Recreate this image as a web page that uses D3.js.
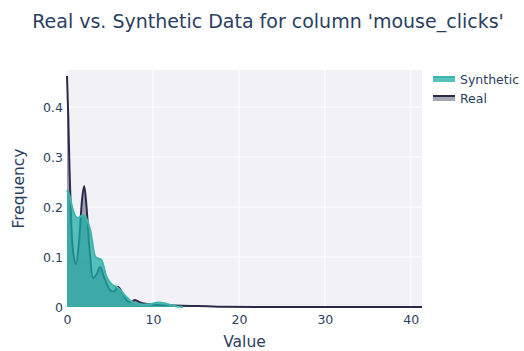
<!DOCTYPE html>
<html>
<head>
<meta charset="utf-8">
<script src="https://cdn.jsdelivr.net/npm/d3@7"></script>
<style>
  body { margin: 0; background: #fff; }
  text { font-family: "DejaVu Sans", Verdana, sans-serif; fill: #2a3f5f; }
</style>
</head>
<body>
<div id="chart-area"></div>
<script>
/* Data */
var series = ["Synthetic", "Real"];

var realX = [0, 0.15, 0.3, 0.5, 0.75, 1.05, 1.4, 1.75, 2.0, 2.25, 2.6, 3.05, 3.45, 3.85, 4.3, 5.0, 5.45, 5.95, 6.5, 7.1, 7.5, 7.9, 8.5, 9.3, 10.5, 12.5, 14.5, 16.3, 18, 22, 30, 41.3];
var realY = [0.462, 0.38, 0.27, 0.165, 0.105, 0.086, 0.13, 0.215, 0.242, 0.205, 0.12, 0.058, 0.066, 0.08, 0.06, 0.034, 0.031, 0.04, 0.026, 0.011, 0.01, 0.014, 0.009, 0.006, 0.004, 0.003, 0.002, 0.0015, 0.0004, 0.0002, 0.0001, 0];

var synthX = [0, 0.3, 0.6, 0.9, 1.2, 1.5, 1.9, 2.3, 2.7, 3.3, 4.0, 4.6, 5.2, 5.8, 6.4, 6.9, 7.5, 8.1, 9.0, 9.8, 10.6, 11.4, 12.2, 12.8, 13.5];
var synthY = [0.234, 0.222, 0.2, 0.184, 0.178, 0.18, 0.184, 0.175, 0.154, 0.1, 0.094, 0.06, 0.045, 0.04, 0.03, 0.02, 0.011, 0.007, 0.005, 0.006, 0.009, 0.007, 0.003, 0.001, 0];

var xTicks = [0, 10, 20, 30, 40];
var yTicks = [0, 0.1, 0.2, 0.3, 0.4];

var colors = {
  Synthetic: {line: "#3fb5ab", fill: "rgba(28,174,164,0.74)"},
  Real: {line: "#2c2a4c", fill: "rgba(44,42,76,0.42)"}
};

/* Margins */
var margin = {top: 70, right: 102, bottom: 44, left: 67};
var width = 524 - margin.left - margin.right;
var height = 351 - margin.top - margin.bottom;

var svg = d3.select("#chart-area").append("svg")
  .attr("width", 524)
  .attr("height", 351);

var g = svg.append("g")
  .attr("transform", "translate(" + margin.left + "," + margin.top + ")");

/* Scales */
var x = d3.scaleLinear().domain([0, 41.3]).range([0, width]);
var y = d3.scaleLinear().domain([0, 0.474]).range([height, 0]);

// plot background
g.append("rect")
  .attr("width", width)
  .attr("height", height)
  .attr("fill", "#f2f2f6");

// grid
g.append("g").selectAll("line.v").data(xTicks.slice(1)).enter().append("line")
  .attr("x1", d => x(d)).attr("x2", d => x(d))
  .attr("y1", 0).attr("y2", height)
  .attr("stroke", "#fff").attr("stroke-width", 1);
g.append("g").selectAll("line.h").data(yTicks.slice(1)).enter().append("line")
  .attr("y1", d => y(d)).attr("y2", d => y(d))
  .attr("x1", 0).attr("x2", width)
  .attr("stroke", "#fff").attr("stroke-width", 1);

/* Curves */
var area = d3.area()
  .x(d => x(d[0]))
  .y0(y(0))
  .y1(d => y(d[1]))
  .curve(d3.curveMonotoneX);
var line = d3.line()
  .x(d => x(d[0]))
  .y(d => y(d[1]))
  .curve(d3.curveMonotoneX);

var realData = realX.map((v, i) => [v, realY[i]]);
var synthData = synthX.map((v, i) => [v, synthY[i]]);

// Real first, Synthetic drawn over it
[["Real", realData], ["Synthetic", synthData]].forEach(function(s) {
  g.append("path").datum(s[1])
    .attr("d", area)
    .attr("fill", colors[s[0]].fill);
  g.append("path").datum(s[1])
    .attr("d", line)
    .attr("fill", "none")
    .attr("stroke", colors[s[0]].line)
    .attr("stroke-width", 2);
});

/* Axes */
var xAxisCall = d3.axisBottom(x).tickValues(xTicks).tickSize(0).tickPadding(8);
var xAx = g.append("g")
  .attr("transform", "translate(0," + height + ")")
  .call(xAxisCall);
xAx.select(".domain").remove();
xAx.selectAll("text").attr("font-size", 12.5).style("fill", "#2a3f5f");

var yAxisCall = d3.axisLeft(y).tickValues(yTicks).tickSize(0).tickPadding(4)
  .tickFormat(d => d === 0 ? "0" : d3.format(".1f")(d));
var yAx = g.append("g").call(yAxisCall);
yAx.select(".domain").remove();
yAx.selectAll("text").attr("font-size", 12.5).style("fill", "#2a3f5f");

/* Labels */
svg.append("text")
  .attr("x", 268)
  .attr("y", 28)
  .attr("text-anchor", "middle")
  .attr("font-size", 19)
  .text("Real vs. Synthetic Data for column 'mouse_clicks'");

svg.append("text")
  .attr("x", margin.left + width / 2)
  .attr("y", 347)
  .attr("text-anchor", "middle")
  .attr("font-size", 15.5)
  .text("Value");

svg.append("text")
  .attr("transform", "rotate(-90)")
  .attr("x", -(margin.top + height / 2))
  .attr("y", 24)
  .attr("text-anchor", "middle")
  .attr("font-size", 15.5)
  .text("Frequency");

/* Legend */
var legend = svg.append("g").attr("transform", "translate(433,79)");
series.forEach(function(s, i) {
  var row = legend.append("g").attr("transform", "translate(0," + (i * 19) + ")");
  row.append("rect")
    .attr("x", 0).attr("y", -3)
    .attr("width", 22).attr("height", 6)
    .attr("fill", colors[s].fill);
  row.append("line")
    .attr("x1", 0).attr("x2", 22)
    .attr("y1", -2).attr("y2", -2)
    .attr("stroke", colors[s].line).attr("stroke-width", 2);
  row.append("text")
    .attr("x", 27).attr("y", 5)
    .attr("font-size", 12.5)
    .text(s);
});
</script>
</body>
</html>
